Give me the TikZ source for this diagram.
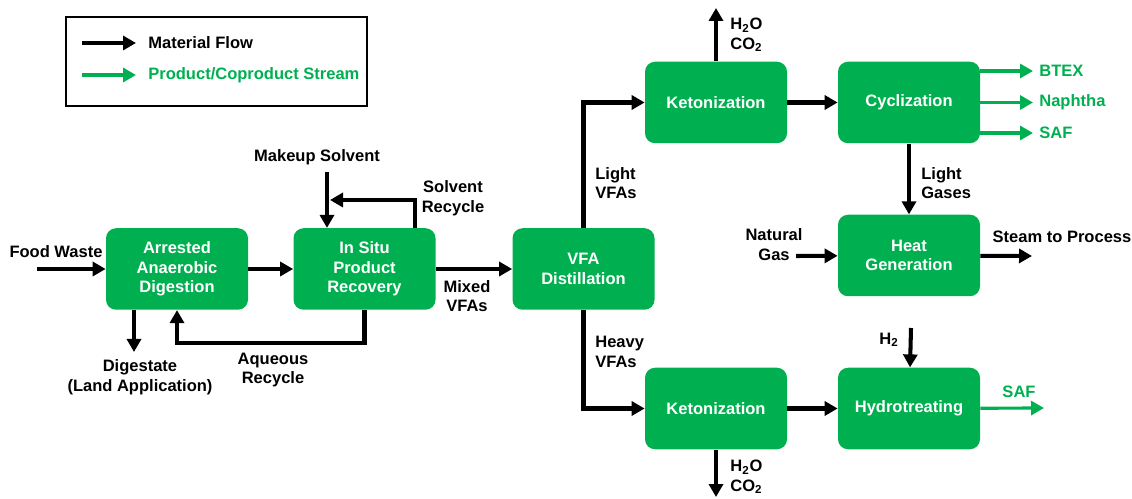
\documentclass[tikz,border=0pt]{standalone}
\usepackage{fontspec}
\setmainfont{Liberation Sans}
\usepackage{xcolor}
\usetikzlibrary{arrows.meta, positioning, calc}
\definecolor{procgreen}{RGB}{0,176,80}

\begin{document}
\begin{tikzpicture}[auto, node distance=2cm, >={Triangle[length=0.26cm, width=0.28cm]}, font=\fontsize{9.4}{11.2}\selectfont\bfseries]
		
		% Define block styles
		\tikzstyle{block} = [rectangle, rounded corners=0.2cm, fill=procgreen, text=white, minimum width=2.84cm, minimum height=1.63cm, align=center, inner sep=0pt]
		\tikzstyle{flow} = [->, line width=2.3pt, black]
		\tikzstyle{prod} = [->, line width=1.8pt, procgreen]
		\tikzstyle{txt} = [align=center, inner sep=0pt]
		\tikzstyle{prodtxt} = [txt, text=procgreen]
		
		\useasboundingbox (0,0) rectangle (22.64,9.96);
		
		% Legend
		\draw[line width=1.5pt] (1.32,7.84) rectangle (7.34,9.62);
		\coordinate (lgblack) at (1.64,9.1);
		\coordinate (lgblackend) at (2.72,9.1);
		\coordinate (lggreen) at (1.64,8.46);
		\coordinate (lggreenend) at (2.72,8.46);
		\draw[flow] (lgblack) -- (lgblackend);
		\draw[prod, line width=2pt] (lggreen) -- (lggreenend);
		\node[txt, anchor=west] at (2.96,9.1) {Material Flow};
		\node[prodtxt, anchor=west] at (2.96,8.46) {Product/Coproduct Stream};
		
		% Nodes
		\node[block] (aad) at (3.54,4.58) {Arrested\\Anaerobic\\Digestion};
		\node[block, right of=aad, node distance=3.75cm] (ispr) {In Situ\\Product\\Recovery};
		\node[block, right of=ispr, node distance=4.38cm] (vfa) {VFA\\Distillation};
		\node[block] (keto1) at (14.32,7.91) {Ketonization};
		\node[block, right of=keto1, node distance=3.86cm] (cyc) {Cyclization};
		\node[block, below of=cyc, node distance=3.06cm] (heat) {Heat\\Generation};
		\node[block, below of=keto1, node distance=6.12cm] (keto2) {Ketonization};
		\node[block, right of=keto2, node distance=3.86cm] (hydro) {Hydrotreating};
		
		% Free ends
		\coordinate (food) at (0.74,4.58);
		\coordinate (dig) at (2.68,2.92);
		\coordinate (mkup) at (6.54,6.52);
		\coordinate (srec) at (6.6,5.96);
		\coordinate (wtop) at (14.32,9.8);
		\coordinate (wbot) at (14.32,0.02);
		\coordinate (ngas) at (15.92,4.84);
		\coordinate (steam) at (20.64,4.84);
		\coordinate (htwo) at (18.22,3.4);
		\coordinate (safend) at (20.88,1.8);
		
		% Arrows
		\draw[flow] (food) -- (aad);
		\draw[flow] (aad) -- (ispr);
		\draw[flow] (dig |- aad.south) -- (dig);
		\draw[flow] (ispr.south) -- ++(0,-0.66) -| (aad.south);
		\draw[flow] (mkup) -- (mkup |- ispr.north);
		\draw[flow] ([xshift=1.01cm]ispr.north) |- (srec);
		\draw[flow] (ispr) -- (vfa);
		\draw[flow] (vfa.north) |- (keto1.west);
		\draw[flow] (vfa.south) |- (keto2.west);
		\draw[flow] (keto1.north) -- (wtop);
		\draw[flow] (keto2.south) -- (wbot);
		\draw[flow] (keto1) -- (cyc);
		\draw[flow] (keto2) -- (hydro);
		\draw[flow] (cyc) -- (heat);
		\draw[flow] (ngas) -- (heat);
		\draw[flow] (heat) -- (steam);
		\draw[flow] (htwo) -- (hydro);
		\draw[prod] (hydro) -- (safend);
		
		% Products
		\node[prodtxt, anchor=west] (btex) at (20.78,8.54) {BTEX};
		\node[prodtxt, anchor=west] (naph) at (20.78,7.91) {Naphtha};
		\node[prodtxt, anchor=west] (saf) at (20.78,7.30) {SAF};
		\draw[prod] (cyc.east |- btex.west) -- ([xshift=-0.12cm]btex.west);
		\draw[prod] (cyc.east |- naph.west) -- ([xshift=-0.12cm]naph.west);
		\draw[prod] (cyc.east |- saf.west) -- ([xshift=-0.12cm]saf.west);
		
		% Labels
		\node[txt] at (1.12,4.92) {Food Waste};
		\node[txt] at (2.80,2.42) {Digestate\\(Land Application)};
		\node[txt] at (5.46,2.56) {Aqueous\\Recycle};
		\node[txt] at (6.34,6.82) {Makeup Solvent};
		\node[txt] at (9.06,6.0) {Solvent\\Recycle};
		\node[txt] at (9.34,4.04) {Mixed\\VFAs};
		\node[txt, anchor=west, align=left] at (11.9,6.3) {Light\\VFAs};
		\node[txt, anchor=west, align=left] at (11.9,2.92) {Heavy\\VFAs};
		\node[txt, anchor=west, align=left] at (14.6,9.26) {H\textsubscript{2}O\\CO\textsubscript{2}};
		\node[txt, anchor=west, align=left] at (14.6,0.42) {H\textsubscript{2}O\\CO\textsubscript{2}};
		\node[txt, anchor=west, align=left] at (18.42,6.3) {Light\\Gases};
		\node[txt] at (15.48,5.07) {Natural\\Gas};
		\node[txt] at (21.24,5.22) {Steam to Process};
		\node[txt] at (17.78,3.16) {H\textsubscript{2}};
		\node[prodtxt] at (20.38,2.12) {SAF};
		
	\end{tikzpicture}
\end{document}
